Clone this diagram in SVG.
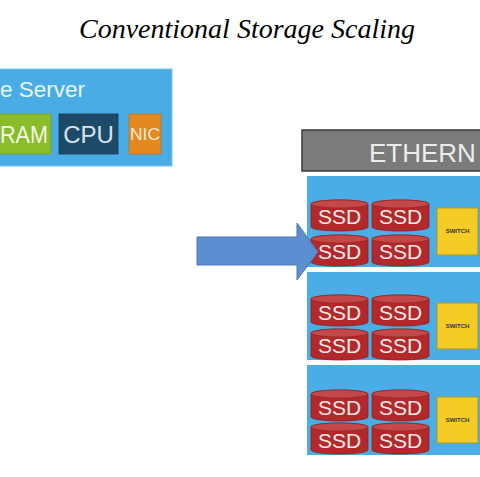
<svg xmlns="http://www.w3.org/2000/svg" width="480" height="477" viewBox="0 0 480 477">
<defs>
<style>
.title{font-family:"Liberation Serif","Times New Roman",serif;font-style:italic;font-size:28px;fill:#000}
.sans{font-family:"Liberation Sans",Arial,sans-serif}
.rack{fill:#4aade6}
.ssd{fill:#b3292b;stroke:#8e1e20;stroke-width:0.8}
.ssdtop{fill:#c44848;stroke:#8e1e20;stroke-width:0.6}
.ssdt{font-family:"Liberation Sans",Arial,sans-serif;font-size:21px;fill:#f4eaea;text-anchor:middle}
.sw{fill:#f5cb26;stroke:#a79a2a;stroke-width:1}
.swt{font-family:"Liberation Sans",Arial,sans-serif;font-size:6px;font-weight:bold;fill:#333;text-anchor:middle}
</style>
<g id="cyl">
<path class="ssd" d="M0,4 a28.5,4 0 0 1 57,0 v23 a28.5,4 0 0 1 -57,0 z"/>
<ellipse class="ssdtop" cx="28.5" cy="4" rx="28.5" ry="4"/>
</g>
</defs>
<rect width="480" height="477" fill="#fff"/>
<text class="title" x="247" y="38" text-anchor="middle">Conventional Storage Scaling</text>

<g id="server">
<rect x="-2" y="69" width="174" height="97" fill="#4aace5" stroke="#79c2ec" stroke-width="1"/>
<text class="sans" x="0" y="97" font-size="22.5" fill="#eaf5fc">e Server</text>
<rect x="-2" y="114" width="53" height="40" fill="#8bbd2a" stroke="#76a020" stroke-width="0.8"/>
<text class="sans" x="0" y="143" font-size="23" fill="#f2f7e6" textLength="48" lengthAdjust="spacingAndGlyphs">RAM</text>
<rect x="59" y="114" width="59" height="40" fill="#1d4a68" stroke="#173b55" stroke-width="0.8"/>
<text class="sans" x="88.5" y="143" font-size="24" fill="#d8e4ee" text-anchor="middle">CPU</text>
<rect x="129" y="114" width="32" height="40" fill="#e3891f" stroke="#c0721a" stroke-width="0.8"/>
<text class="sans" x="130" y="140" font-size="16" fill="#fbead6" textLength="30" lengthAdjust="spacingAndGlyphs">NIC</text>
</g>

<g id="ethernet">
<rect x="302" y="130" width="190" height="41" fill="#7b7b7b" stroke="#3a3a3a" stroke-width="1.5"/>
<text class="sans" x="369" y="162" font-size="26" fill="#ececec">ETHERN</text>
</g>

<g id="rack1">
<rect class="rack" x="307" y="176" width="180" height="91"/>
<use href="#cyl" x="311" y="200"/><text class="ssdt" x="339.5" y="224">SSD</text>
<use href="#cyl" x="372" y="200"/><text class="ssdt" x="400.5" y="224">SSD</text>
<use href="#cyl" x="311" y="235"/><text class="ssdt" x="339.5" y="259">SSD</text>
<use href="#cyl" x="372" y="235"/><text class="ssdt" x="400.5" y="259">SSD</text>
<rect class="sw" x="437" y="208" width="41" height="47"/>
<text class="swt" x="457.5" y="233">SWITCH</text>
</g>

<g id="rack2">
<rect class="rack" x="307" y="272" width="180" height="88"/>
<use href="#cyl" x="311" y="295"/><text class="ssdt" x="339.5" y="320">SSD</text>
<use href="#cyl" x="372" y="295"/><text class="ssdt" x="400.5" y="320">SSD</text>
<use href="#cyl" x="311" y="329"/><text class="ssdt" x="339.5" y="353">SSD</text>
<use href="#cyl" x="372" y="329"/><text class="ssdt" x="400.5" y="353">SSD</text>
<rect class="sw" x="437" y="303" width="41" height="46"/>
<text class="swt" x="457.5" y="328">SWITCH</text>
</g>

<g id="rack3">
<rect class="rack" x="307" y="365" width="180" height="90"/>
<use href="#cyl" x="311" y="390"/><text class="ssdt" x="339.5" y="415">SSD</text>
<use href="#cyl" x="372" y="390"/><text class="ssdt" x="400.5" y="415">SSD</text>
<use href="#cyl" x="311" y="423"/><text class="ssdt" x="339.5" y="448">SSD</text>
<use href="#cyl" x="372" y="423"/><text class="ssdt" x="400.5" y="448">SSD</text>
<rect class="sw" x="437" y="397" width="41" height="46"/>
<text class="swt" x="457.5" y="422">SWITCH</text>
</g>

<g id="connectors">
<path d="M197,237 H297 V223 L318,252 L297,280 V265 H197 Z" fill="#5b8fd2" stroke="#4874b0" stroke-width="1"/>
</g>
</svg>
